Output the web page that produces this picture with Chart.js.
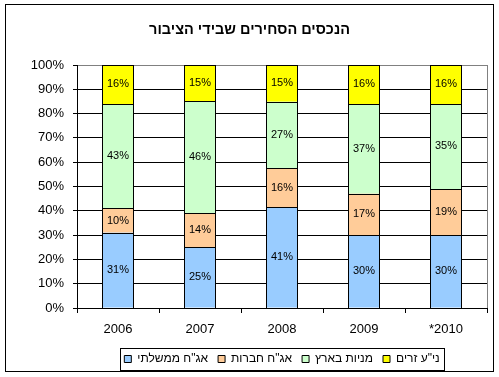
<!DOCTYPE html>
<html>
<head>
<meta charset="utf-8">
<script src="https://cdn.jsdelivr.net/npm/chart.js@4.4.1/dist/chart.umd.min.js"></script>
<style>
  html, body { margin: 0; padding: 0; background: #fff; }
  #wrap { width: 499px; height: 377px; position: relative; }
</style>
</head>
<body>
<div id="wrap"><canvas id="c" width="499" height="377"></canvas></div>
<script>
const chartTitle = 'הנכסים הסחירים שבידי הציבור';
const categories = ['2006', '2007', '2008', '2009', '*2010'];
const seriesNames = ['אג"ח ממשלתי', 'אג"ח חברות', 'מניות בארץ', 'ני"ע זרים'];
const govBonds = [31, 25, 41, 30, 30];
const corpBonds = [10, 14, 16, 17, 19];
const domesticStocks = [43, 46, 27, 37, 35];
const foreignSecurities = [16, 15, 15, 16, 16];
const seriesColors = ['#99CCFF', '#FFCC99', '#CCFFCC', '#FFFF00'];
const yTickValues = [0, 10, 20, 30, 40, 50, 60, 70, 80, 90, 100];

const seriesValues = [govBonds, corpBonds, domesticStocks, foreignSecurities];
const totals = categories.map((_, i) => seriesValues.reduce((s, arr) => s + arr[i], 0));

Chart.defaults.font.family = "'Liberation Sans', Arial, sans-serif";
Chart.defaults.color = '#000';

const datasets = seriesValues.map((vals, k) => ({
  label: seriesNames[k],
  data: vals.map((v, i) => v / totals[i] * 100),
  rawValues: vals,
  backgroundColor: seriesColors[k],
  borderColor: '#000',
  borderWidth: 0,
  inflateAmount: 0,
  barThickness: 32
}));

const framePlugin = {
  id: 'frame',
  afterLayout(chart) {
    const lg = chart.legend;
    const ca = chart.chartArea;
    if (lg) {
      const dx = (ca.left + ca.right) / 2 - (lg.left + lg.right) / 2;
      lg.left += dx; lg.right += dx;
    }
    const tb = chart.titleBlock;
    if (tb) { tb.left = 0; tb.right = chart.width; }
  },
  beforeDatasetsDraw(chart) {
    const ctx = chart.ctx, ca = chart.chartArea;
    ctx.save();
    ctx.strokeStyle = '#808080';
    ctx.lineWidth = 1;
    ctx.beginPath();
    ctx.moveTo(Math.round(ca.right) + 0.5, ca.top);
    ctx.lineTo(Math.round(ca.right) + 0.5, ca.bottom);
    ctx.stroke();
    ctx.restore();
  },
  afterDatasetsDraw(chart) {
    const ctx = chart.ctx;
    ctx.save();
    // crisp outlines of the library's bar elements
    ctx.strokeStyle = '#000';
    ctx.lineWidth = 1;
    chart.data.datasets.forEach((ds, k) => {
      const meta = chart.getDatasetMeta(k);
      meta.data.forEach(bar => {
        const L = Math.round(bar.x - bar.width / 2);
        const R = Math.round(bar.x + bar.width / 2);
        const T = Math.round(Math.min(bar.y, bar.base));
        const B = Math.round(Math.max(bar.y, bar.base));
        ctx.strokeRect(L + 0.5, T + 0.5, R - L - 1, B - T);
      });
    });
    ctx.font = "11px 'Liberation Sans', Arial, sans-serif";
    ctx.fillStyle = '#000';
    ctx.textAlign = 'center';
    ctx.textBaseline = 'middle';
    chart.data.datasets.forEach((ds, k) => {
      const meta = chart.getDatasetMeta(k);
      meta.data.forEach((bar, i) => {
        const y = (bar.y + bar.base) / 2;
        ctx.fillText(ds.rawValues[i] + '%', bar.x, y);
      });
    });
    ctx.restore();
  },
  afterDraw(chart) {
    const ctx = chart.ctx;
    ctx.save();
    ctx.strokeStyle = '#000';
    ctx.lineWidth = 1;
    ctx.strokeRect(5.5, 4.5, 488, 367);
    const lg = chart.legend;
    if (lg && lg.legendHitBoxes.length) {
      const hb = lg.legendHitBoxes;
      const x0 = hb[0].left - 4;
      const last = hb[hb.length - 1];
      const x1 = last.left + last.width + 5;
      const yc = hb[0].top + hb[0].height / 2;
      ctx.strokeRect(Math.round(x0) + 0.5, Math.round(yc - 11) + 0.5, Math.round(x1 - x0), 22);
    }
    ctx.restore();
  }
};

new Chart(document.getElementById('c'), {
  type: 'bar',
  data: { labels: categories, datasets },
  options: {
    responsive: false,
    animation: false,
    layout: { padding: { left: 0, right: 12, top: 0, bottom: 2 } },
    plugins: {
      title: {
        display: true,
        text: chartTitle,
        font: { size: 14.5, weight: 'bold' },
        color: '#000',
        padding: { top: 21, bottom: 26.6 }
      },
      legend: {
        position: 'bottom',
        labels: {
          boxWidth: 7,
          boxHeight: 7,
          padding: 10,
          font: { size: 12 },
          color: '#000',
          generateLabels(chart) {
            return Chart.defaults.plugins.legend.labels.generateLabels(chart).map(item => ({
              ...item,
              lineWidth: 1,
              strokeStyle: '#000'
            }));
          }
        }
      },
      tooltip: { enabled: false }
    },
    scales: {
      x: {
        stacked: true,
        afterFit(scale) { scale.height = 35; },
        grid: {
          drawOnChartArea: false,
          tickLength: 5,
          tickColor: '#000',
          color: '#000',
          offset: true
        },
        border: { display: true, color: '#000', width: 1 },
        ticks: { font: { size: 13 }, color: '#000', padding: 9 }
      },
      y: {
        stacked: true,
        min: 0,
        max: 100,
        afterFit(scale) { scale.width = 77; },
        afterBuildTicks(scale) { scale.ticks = yTickValues.map(v => ({ value: v })); },
        grid: {
          color: ctx => (ctx.tick && ctx.tick.value === 100) ? '#808080' : '#000',
          borderDash: ctx => (ctx.tick && ctx.tick.value === 100) ? [] : [3, 2],
          tickBorderDash: [],
          tickColor: '#000',
          tickLength: 4,
          lineWidth: 1
        },
        border: { display: true, color: '#000', width: 1 },
        ticks: {
          font: { size: 13 },
          color: '#000',
          padding: 9,
          callback: v => v + '%'
        }
      }
    }
  },
  plugins: [framePlugin]
});
</script>
</body>
</html>
